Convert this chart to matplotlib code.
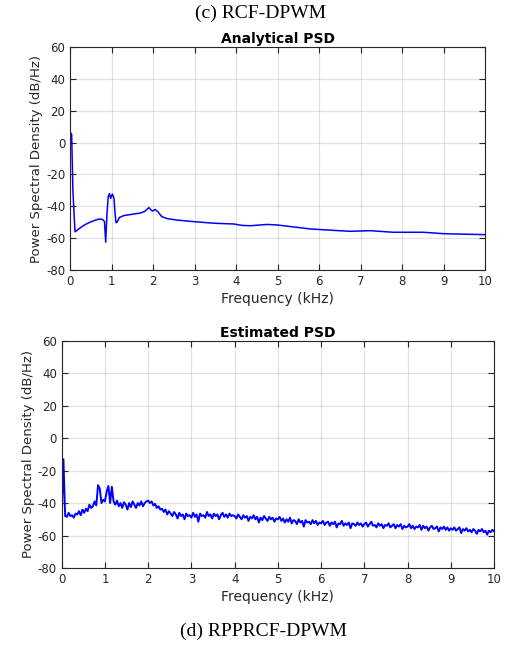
import numpy as np
import matplotlib.pyplot as plt

plt.rcParams['font.family'] = ['DejaVu Sans']
plt.rcParams['axes.unicode_minus'] = False

# analytical PSD (smooth curve), breakpoints
f_ana = [0.02, 0.04, 0.07, 0.12, 0.2, 0.3, 0.4, 0.5, 0.6, 0.7, 0.78, 0.83, 0.86,
         0.89, 0.92, 0.95, 0.98, 1.02, 1.06, 1.09, 1.11, 1.14, 1.19, 1.3, 1.5,
         1.7, 1.8, 1.9, 1.96, 1.99, 2.05, 2.12, 2.21, 2.35, 2.57, 2.8, 2.97,
         3.3, 3.53, 3.94, 4.15, 4.35, 4.74, 4.98, 5.4, 5.78, 6.34, 6.75, 7.0,
         7.23, 7.5, 7.79, 8.51, 9.0, 9.5, 10.0]
psd_ana = [6, 5, -30, -56, -54.5, -52.5, -51, -49.8, -48.8, -48, -48.2, -49.5, -62.5,
           -45, -34, -32, -35, -32.3, -35, -46, -50.3, -49.8, -47, -45.8, -45,
           -44.2, -43.2, -40.8, -42.5, -43, -42, -43.5, -46.5, -47.8, -48.6, -49.2, -49.6,
           -50.3, -50.7, -51.1, -52, -52.2, -51.4, -51.7, -53, -54.2, -55.1, -55.7, -55.5,
           -55.3, -55.8, -56.3, -56.3, -57.2, -57.5, -57.8]

# estimated PSD, one value every 0.04 kHz from 0 to 10 kHz
f_est = np.linspace(0, 10, 251)
psd_est = [
    -49, -13, -48, -48.5, -46, -48, -47.5, -49, -46.5, -47, -45, -47.5, -44, -46, -43.5, -45, -41, -43, -42, -39, -41.5, -29, -31, -40, -38,
    -39, -33, -29.5, -40, -30, -39, -41, -38.5, -42, -40, -43, -39.5, -41, -44, -40, -42.5, -39, -41, -43, -40, -41.5, -39, -42, -40, -39,
    -38.5, -40, -39, -41.5, -40.5, -43, -42, -44, -43.5, -45.5, -44, -47, -45, -46.5, -48, -45.5, -47, -49.5, -46, -48, -47, -50, -46.5, -48, -47.5,
    -49, -46, -48.5, -47, -51.5, -46.5, -48, -47.5, -49, -45.5, -48, -47, -49.5, -46.5, -48, -47, -50, -47.5, -46, -48.5, -47, -49, -46.5, -48, -47.5,
    -48, -49.5, -47, -48.5, -50, -47.5, -49, -48, -51, -48.5, -49.5, -47.5, -50, -48.5, -52, -49, -50.5, -48, -49.5, -51, -48.5, -50, -49, -51.5, -49.5,
    -50, -48.5, -51, -49.5, -52, -50, -51.5, -49, -52.5, -50.5, -51, -53, -50, -52, -51, -54.5, -50.5, -52, -51.5, -53, -50.5, -52.5, -51, -53.5, -52,
    -52.5, -51, -53.5, -52, -51.5, -54, -52, -53, -51.5, -55, -52.5, -53, -51, -54, -52.5, -53.5, -52, -55.5, -52.5, -53, -54, -52, -53.5, -52.5, -54.5,
    -53, -52, -54.5, -53, -51.5, -54, -53.5, -55, -52.5, -54, -53, -55.5, -53.5, -54, -52.5, -55, -54, -53, -55.5, -53.5, -54.5, -53, -56, -54, -55,
    -54.5, -53, -55.5, -54, -56, -54.5, -55, -53.5, -56.5, -54, -55.5, -54.5, -57, -55, -54, -56, -55.5, -54.5, -57.5, -55, -56, -54.5, -56.5, -55, -57,
    -55.5, -56.5, -55, -57, -56, -55, -58.5, -56, -57, -55.5, -57.5, -56.5, -58, -56, -57, -59, -56.5, -57.5, -56, -58, -57, -59.5, -57, -58, -56.5, -57.5]

xticks = list(range(0, 11))
yticks = list(range(-80, 61, 20))


def style(ax, title):
    ax.set_xlim(0, 10)
    ax.set_ylim(-80, 60)
    ax.set_xticks(xticks)
    ax.set_yticks(yticks)
    ax.grid(True, color='#262626', alpha=0.13, linewidth=0.9)
    ax.tick_params(direction='in', top=True, right=True, length=4, width=0.8,
                   labelsize=8.5, colors='#262626', labelcolor='#262626')
    for s in ax.spines.values():
        s.set_color('#262626')
        s.set_linewidth(0.8)
    ax.set_title(title, fontsize=10, fontweight='bold', pad=3)
    ax.set_xlabel('Frequency (kHz)', fontsize=10, color='#262626', labelpad=3)
    ax.set_ylabel('Power Spectral Density (dB/Hz)', fontsize=9.5, color='#262626', labelpad=2)


fig = plt.figure(figsize=(5.12, 6.53), dpi=100)
ax1 = fig.add_axes([0.1367, 0.5865, 0.811, 0.3415])
ax1.plot(f_ana, psd_ana, color='#0000ff', linewidth=1.1)
style(ax1, 'Analytical PSD')

ax2 = fig.add_axes([0.1205, 0.1302, 0.8445, 0.348])
ax2.plot(f_est, psd_est, color='#0000ff', linewidth=1.4)
style(ax2, 'Estimated PSD')

fig.text(0.508, 1 - 13 / 653, '(c) RCF-DPWM', family='Liberation Serif', fontsize=14,
         ha='center', va='center')
fig.text(0.515, 1 - 631 / 653, '(d) RPPRCF-DPWM', family='Liberation Serif', fontsize=14,
         ha='center', va='center')

fig.savefig('out.png', dpi=100)
